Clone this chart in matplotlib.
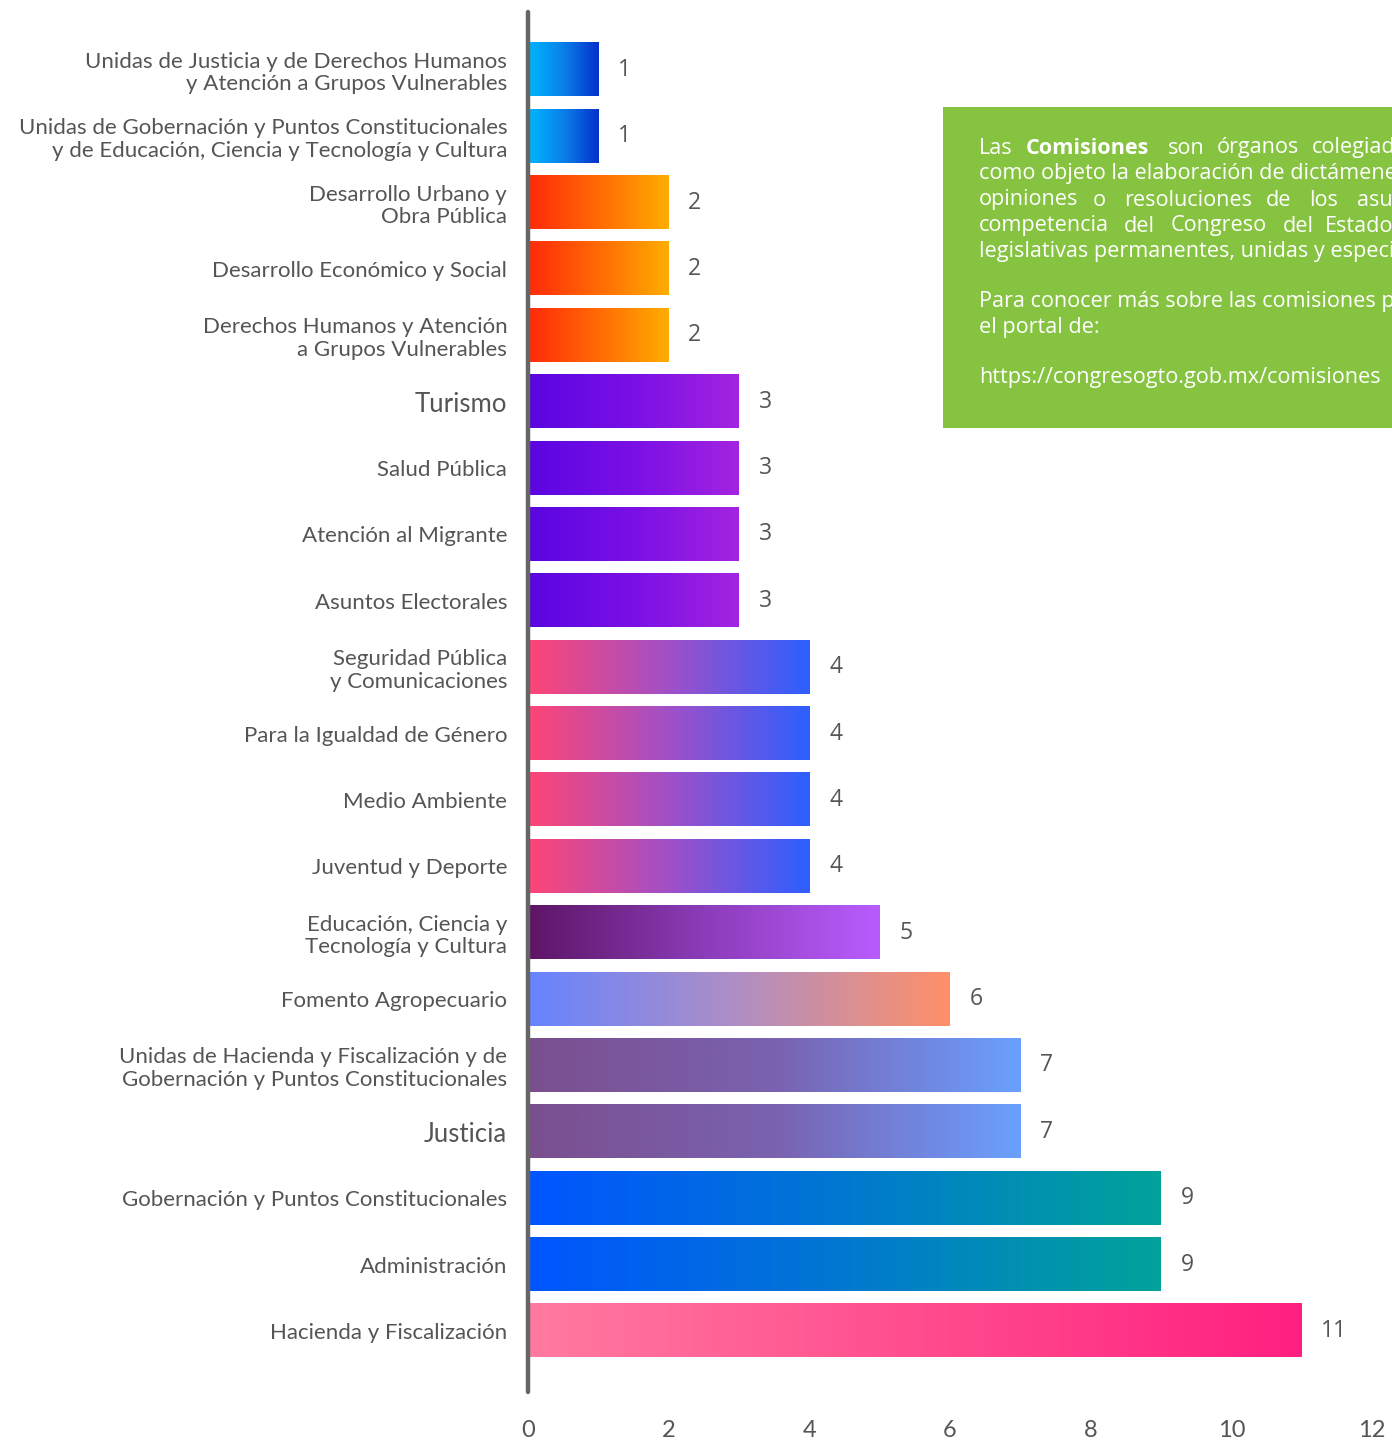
import matplotlib
matplotlib.use('Agg')
import matplotlib.pyplot as plt
from matplotlib.colors import LinearSegmentedColormap
from matplotlib.patches import Rectangle
import numpy as np

# datos de las comisiones (de arriba hacia abajo)
labels = [
    'Unidas de Justicia y de Derechos Humanos\ny Atención a Grupos Vulnerables',
    'Unidas de Gobernación y Puntos Constitucionales\ny de Educación, Ciencia y Tecnología y Cultura',
    'Desarrollo Urbano y\nObra Pública',
    'Desarrollo Económico y Social',
    'Derechos Humanos y Atención\na Grupos Vulnerables',
    'Turismo',
    'Salud Pública',
    'Atención al Migrante',
    'Asuntos Electorales',
    'Seguridad Pública\ny Comunicaciones',
    'Para la Igualdad de Género',
    'Medio Ambiente',
    'Juventud y Deporte',
    'Educación, Ciencia y\nTecnología y Cultura',
    'Fomento Agropecuario',
    'Unidas de Hacienda y Fiscalización y de\nGobernación y Puntos Constitucionales',
    'Justicia',
    'Gobernación y Puntos Constitucionales',
    'Administración',
    'Hacienda y Fiscalización',
]
values = [1, 1, 2, 2, 2, 3, 3, 3, 3, 4, 4, 4, 4, 5, 6, 7, 7, 9, 9, 11]

# colores del degradado de cada barra (izquierda -> derecha)
grad_start = ['#00b6ff', '#00b6ff', '#ff2a0a', '#ff2a0a', '#ff2a0a',
              '#5a05e0', '#5a05e0', '#5a05e0', '#5a05e0',
              '#ff4576', '#ff4576', '#ff4576', '#ff4576',
              '#5e1566', '#6684ff', '#7a4f8e', '#7a4f8e',
              '#0055ff', '#0055ff', '#ff7aa0']
grad_mid = ['#0a80e8', '#0a80e8', '#ff6a05', '#ff6a05', '#ff6a05',
            '#7a10e6', '#7a10e6', '#7a10e6', '#7a10e6',
            '#a050c8', '#a050c8', '#a050c8', '#a050c8',
            '#8c3cb8', '#b08ec4', '#7a62b0', '#7a62b0',
            '#0078d0', '#0078d0', '#ff4d8e']
grad_end = ['#0430cc', '#0430cc', '#ffad00', '#ffad00', '#ffad00',
            '#a424e0', '#a424e0', '#a424e0', '#a424e0',
            '#2d5fff', '#2d5fff', '#2d5fff', '#2d5fff',
            '#b85cff', '#ff9068', '#6aa0ff', '#6aa0ff',
            '#00a39a', '#00a39a', '#ff2080']

xticks = [0, 2, 4, 6, 8, 10, 12]

plt.rcParams['font.family'] = ['Lato', 'DejaVu Sans']
text_color = '#555555'

fig = plt.figure(figsize=(13.92, 14.42), dpi=100)
ax = fig.add_axes([528 / 1392, 1 - 1392 / 1442, (1372 - 528) / 1392, (1392 - 12) / 1442])

n = len(values)
ypos = np.arange(n)
bar_h = 0.8
grad = np.linspace(0, 1, 256).reshape(1, -1)

for i, v in enumerate(values):
    cmap = LinearSegmentedColormap.from_list(
        f'g{i}', [grad_start[i], grad_mid[i], grad_end[i]])
    ax.imshow(grad, cmap=cmap, aspect='auto', interpolation='bicubic',
              extent=[0, v, i + bar_h / 2, i - bar_h / 2], zorder=2)
    ax.text(v + 0.28, i, str(v), ha='left', va='center',
            fontsize=16.5, color=text_color, family=['Open Sans', 'DejaVu Sans'])

ax.set_xlim(0, 12)
ax.set_ylim(n - 1 + 0.92, -0.87)

ax.set_yticks(ypos)
ax.set_yticklabels(labels, fontsize=16, color=text_color, linespacing=1.15)
for t, lab in zip(ax.get_yticklabels(), labels):
    if lab in ('Turismo', 'Justicia'):
        t.set_fontsize(18.5)
ax.tick_params(axis='y', length=0, pad=15)

ax.set_xticks(xticks)
ax.set_xticklabels([str(x) for x in xticks], fontsize=17, color=text_color)
ax.tick_params(axis='x', length=0, pad=20)

for s in ['top', 'right', 'bottom']:
    ax.spines[s].set_visible(False)
ax.spines['left'].set_color('#666666')
ax.spines['left'].set_linewidth(3.2)
ax.spines['left'].set_capstyle('round')

# recuadro verde con el texto informativo
box_left = 943 / 1392
box_bottom = 1 - 428 / 1442
box_top = 1 - 107 / 1442
fig.patches.append(Rectangle((box_left, box_bottom), 1 - box_left + 0.01,
                             box_top - box_bottom, transform=fig.transFigure,
                             facecolor='#86c341', edgecolor='none', zorder=0))

box_fs = 15.6
box_family = ['Open Sans', 'DejaVu Sans']

def fy(py):
    return 1 - py / 1442

def line_at(txt, py, px=979, weight='normal'):
    fig.text(px / 1392, fy(py), txt, color='white', fontsize=box_fs,
             fontweight=weight, family=box_family, ha='left', va='center')

def words_at(words, xs, py, weights=None):
    for k, (w, px) in enumerate(zip(words, xs)):
        line_at(w, py, px, weights[k] if weights else 'normal')

words_at(['Las', 'Comisiones', 'son', 'órganos', 'colegiados'],
         [979, 1026, 1168, 1217, 1312], 148,
         ['normal', 'bold', 'normal', 'normal', 'normal'])
line_at('como objeto la elaboración de dictámenes, informes,', 174)
words_at(['opiniones', 'o', 'resoluciones', 'de', 'los', 'asuntos'],
         [979, 1093, 1124, 1266, 1309, 1357], 200)
words_at(['competencia', 'del', 'Congreso', 'del', 'Estado.'],
         [979, 1124, 1171, 1283, 1325], 226)
line_at('legislativas permanentes, unidas y especiales.', 251)
line_at('Para conocer más sobre las comisiones puedes consultar', 301)
line_at('el portal de:', 327)
line_at('https://congresogto.gob.mx/comisiones', 378)

fig.savefig('out.png', dpi=100)
